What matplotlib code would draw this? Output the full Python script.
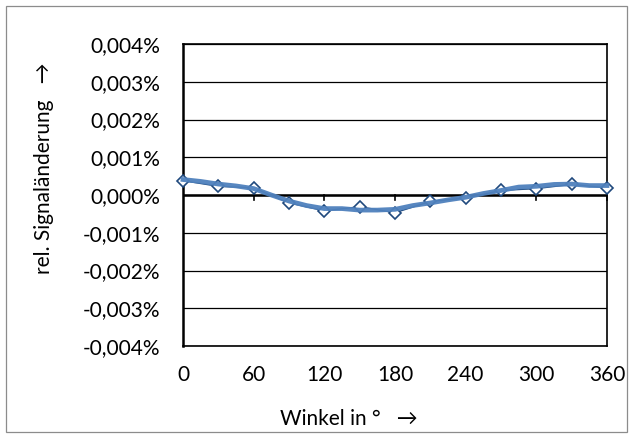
import matplotlib
matplotlib.use("Agg")
import matplotlib.pyplot as plt
from matplotlib.ticker import FuncFormatter, MultipleLocator
from matplotlib.patches import Rectangle

# measured points (every 30°)
meas_angles = [0, 30, 60, 90, 120, 150, 180, 210, 240, 270, 300, 330, 360]
meas_values = [0.00038, 0.00023, 0.00019, -0.00021, -0.00042, -0.00031, -0.00047,
               -0.00017, -0.00008, 0.00012, 0.00017, 0.00028, 0.00019]

# smoothed curve
curve_angles = [0, 15, 30, 45, 60, 75, 90, 105, 120, 135, 150, 165, 180, 195, 210,
                225, 240, 255, 270, 285, 300, 315, 330, 345, 360]
curve_values = [0.00041, 0.00036, 0.00029, 0.00024, 0.00017, 0.0, -0.00016, -0.00028,
                -0.00036, -0.00036, -0.0004, -0.0004, -0.00038, -0.00028, -0.00021,
                -0.00013, -0.00006, 0.00004, 0.00012, 0.00021, 0.00023, 0.00028,
                0.00029, 0.00025, 0.00025]

x_ticks = [0, 60, 120, 180, 240, 300, 360]

plt.rcParams['font.family'] = ['Lato', 'DejaVu Sans']

fig = plt.figure(figsize=(6.32, 4.37), dpi=100)
fig.patch.set_facecolor('white')
fig.add_artist(Rectangle((6 / 632, 5 / 437), 621 / 632, 426 / 437, transform=fig.transFigure,
                         fill=False, edgecolor='#8c8c8c', linewidth=0.9))

ax = fig.add_axes([183 / 632, 1 - 346 / 437, 424 / 632, 302 / 437])
ax.set_xlim(0, 360)
ax.set_ylim(-0.004, 0.004)

ax.yaxis.set_major_locator(MultipleLocator(0.001))
ax.set_xticks(x_ticks)
ax.grid(axis='y', color='black', linewidth=0.9)
ax.set_axisbelow(True)

for s in ax.spines.values():
    s.set_linewidth(1.2)
    s.set_color('black')
ax.spines['left'].set_linewidth(1.8)

# horizontal axis line at zero with downward tick marks
ax.axhline(0, color='black', linewidth=1.8, zorder=2)
for t in x_ticks[1:]:
    ax.plot([t, t], [0, -0.00013], color='black', linewidth=1.2, zorder=2, clip_on=False)

fmt = FuncFormatter(lambda v, p: ("%.3f%%" % v).replace('.', ',').replace('-0,000', '0,000'))
ax.yaxis.set_major_formatter(fmt)
ax.tick_params(axis='y', length=0, pad=16.5, labelsize=15)
ax.tick_params(axis='x', length=0, pad=14, labelsize=15)

ax.plot(meas_angles, meas_values, color='#1F497D', linewidth=1.0, marker='D',
        markersize=6, markerfacecolor='white', markeredgecolor='#1F497D',
        markeredgewidth=1.2, zorder=3, clip_on=False)
ax.plot(curve_angles, curve_values, color='#4F81BD', linewidth=3.4, alpha=0.95,
        solid_joinstyle='round', zorder=4, clip_on=False)

fig.text(44 / 632, 1 - 168 / 437, 'rel. Signaländerung   →', rotation=90,
         ha='center', va='center', fontsize=15)
fig.text(349 / 632, 1 - 425 / 437, 'Winkel in °   →', ha='center', va='baseline', fontsize=15)

fig.savefig('out.png', dpi=100)
